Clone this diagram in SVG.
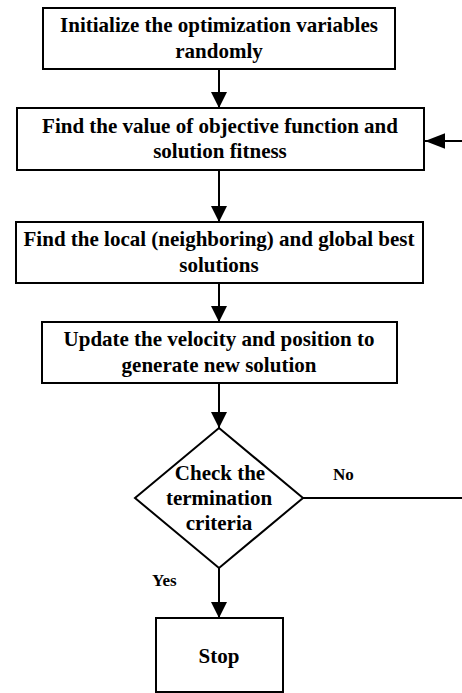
<svg xmlns="http://www.w3.org/2000/svg" width="462" height="693" viewBox="0 0 462 693">
<style>
.box{fill:#fff;stroke:#000;stroke-width:2}
.t{font-family:"Liberation Serif","Times New Roman",serif;font-weight:bold;font-size:21px;text-anchor:middle;fill:#000}
.lbl{font-family:"Liberation Serif","Times New Roman",serif;font-weight:bold;font-size:17px;fill:#000}
.c{fill:none;stroke:#000;stroke-width:2}
</style>
<defs>
<marker id="ah" markerUnits="userSpaceOnUse" markerWidth="16" markerHeight="16" viewBox="0 0 14 14" refX="14" refY="7" orient="auto">
<path d="M0,0 L14,7 L0,14 Z" fill="#000"/>
</marker>
<marker id="ahw" markerUnits="userSpaceOnUse" markerWidth="20" markerHeight="16" viewBox="0 0 18 14" refX="18" refY="7" orient="auto">
<path d="M0,0 L18,7 L0,14 Z" fill="#000"/>
</marker>
</defs>
<rect width="462" height="693" fill="#fff"/>
<g id="connectors">
<path class="c" d="M219,69 V108" marker-end="url(#ah)"/>
<path class="c" d="M219,170 V222" marker-end="url(#ah)"/>
<path class="c" d="M219,283 V322" marker-end="url(#ah)"/>
<path class="c" d="M219,383 V428" marker-end="url(#ah)"/>
<path class="c" d="M219,568 V618" marker-end="url(#ah)"/>
<path class="c" d="M303,498 H462"/>
<path class="c" d="M462,141 H425" marker-end="url(#ahw)"/>
<text class="lbl" x="333" y="480">No</text>
<text class="lbl" x="152" y="586">Yes</text>
</g>
<g id="init">
<rect class="box" x="43" y="8" width="352" height="61"/>
<text class="t" x="219" y="32">Initialize the optimization variables</text>
<text class="t" x="219" y="58">randomly</text>
</g>
<g id="evaluate">
<rect class="box" x="17" y="108" width="407" height="62"/>
<text class="t" x="220" y="133">Find the value of objective function and</text>
<text class="t" x="220" y="158">solution fitness</text>
</g>
<g id="best">
<rect class="box" x="16" y="222" width="407" height="61"/>
<text class="t" x="219" y="246">Find the local (neighboring) and global best</text>
<text class="t" x="219" y="272">solutions</text>
</g>
<g id="update">
<rect class="box" x="42" y="322" width="355" height="61"/>
<text class="t" x="219" y="346">Update the velocity and position to</text>
<text class="t" x="219" y="372">generate new solution</text>
</g>
<g id="check">
<polygon class="box" points="219,428 303,498 219,568 135,498"/>
<text class="t" x="220" y="480">Check the</text>
<text class="t" x="219" y="505">termination</text>
<text class="t" x="219" y="530">criteria</text>
</g>
<g id="stop">
<rect class="box" x="156" y="618" width="127" height="74"/>
<text class="t" x="219" y="663">Stop</text>
</g>
</svg>
